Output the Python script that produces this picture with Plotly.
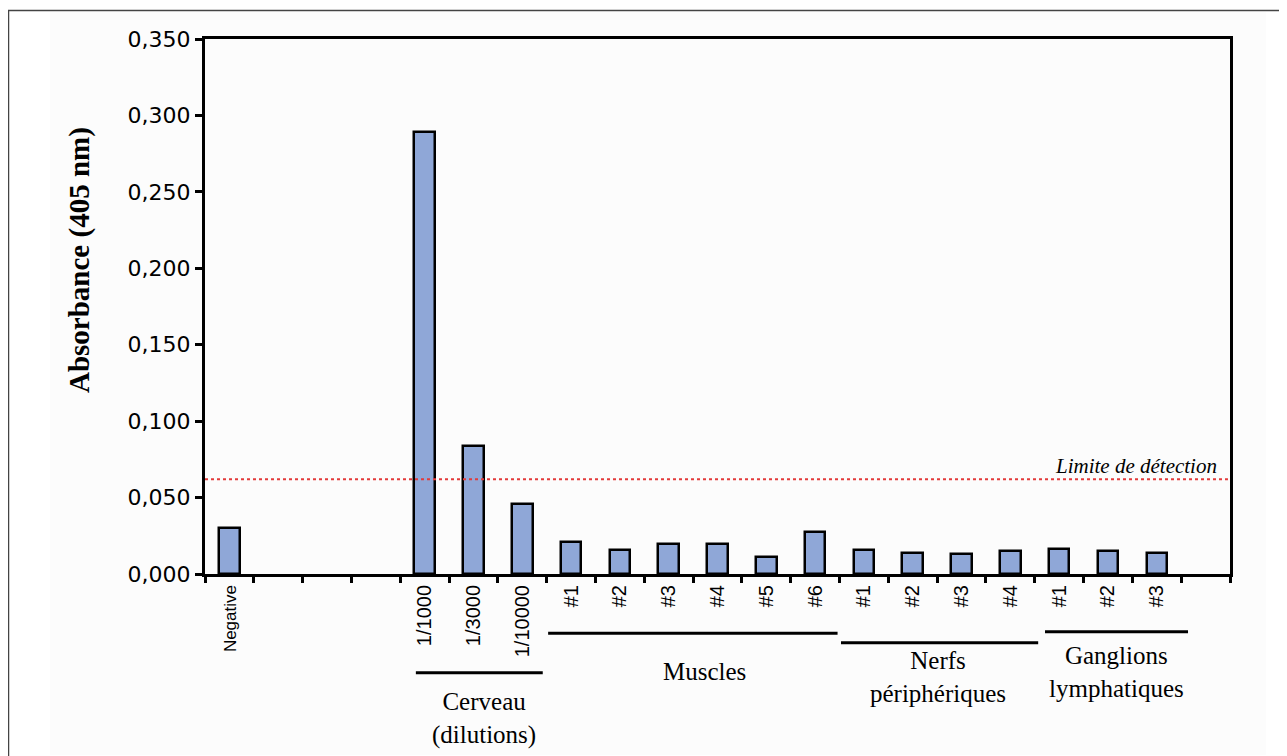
import plotly.graph_objects as go

# ---------------- data ----------------
categories = ["Negative", "", "", "", "1/1000", "1/3000", "1/10000",
              "#1", "#2", "#3", "#4", "#5", "#6",
              "#1", "#2", "#3", "#4",
              "#1", "#2", "#3", ""]
absorbance = [0.030, None, None, None, 0.289, 0.084, 0.046,
              0.021, 0.0155, 0.0195, 0.0195, 0.0113, 0.0275,
              0.0155, 0.0137, 0.0129, 0.0153,
              0.0161, 0.0153, 0.0135, None]
detection_limit = 0.062
y_ticks = [0.0, 0.05, 0.10, 0.15, 0.20, 0.25, 0.30, 0.35]
y_tick_labels = ["0,000", "0,050", "0,100", "0,150", "0,200", "0,250", "0,300", "0,350"]

group_names = ["Cerveau<br>(dilutions)", "Muscles", "Nerfs<br>périphériques", "Ganglions<br>lymphatiques"]
group_first = [4, 7, 13, 17]
group_last = [6, 12, 16, 19]

# ---------------- layout helpers ----------------
OFF = 8                      # page body margin
W, H = 1287 - OFF, 756 - OFF
L, R, T, B = 205, 1230, 39, 574   # plot area in screenshot pixels
def px_x(px):
    return (px - L) / (R - L)
def px_y(py):
    return (B - py) / (B - T)

# group bracket styling (offsets in category units, y in pixels)
grp_trim_l = [0.32, 0.03, 0.03, 0.21]
grp_trim_r = [-0.08, -0.04, 0.07, 0.14]
grp_line_py = [672.7, 633.3, 642.7, 631.7]
grp_text_x = [5.22, 9.74, 14.51, 18.18]
grp_text_py = [718, 671.7, 677.5, 672]

x = list(range(len(categories)))
tick_text = [("<span style='font-size:17px'>%s</span>" % c) if c == "Negative" else c for c in categories]

fig = go.Figure()
fig.add_trace(go.Bar(
    x=x, y=absorbance, width=0.42,
    marker=dict(color="#8FA7D7", line=dict(color="black", width=2.5)),
    showlegend=False, hoverinfo="skip",
))

shapes = []
# outer page frame
shapes.append(dict(type="rect", xref="paper", yref="paper",
                   x0=px_x(50), x1=px_x(1266), y0=px_y(755), y1=px_y(12),
                   fillcolor="#FCFCFC", line=dict(width=0), layer="below"))
shapes.append(dict(type="line", xref="paper", yref="paper",
                   x0=px_x(8.5), x1=px_x(8.5), y0=px_y(10), y1=px_y(760),
                   line=dict(color="#444444", width=1.5)))
shapes.append(dict(type="line", xref="paper", yref="paper",
                   x0=px_x(8), x1=px_x(1290), y0=px_y(10.5), y1=px_y(10.5),
                   line=dict(color="#444444", width=1.5)))
# detection limit
shapes.append(dict(type="line", xref="paper", yref="y",
                   x0=0, x1=0.998, y0=detection_limit, y1=detection_limit,
                   line=dict(color="#E23A3A", width=2, dash="dot")))
annotations = [dict(xref="paper", yref="y", x=px_x(1219), y=detection_limit,
                    xanchor="right", yanchor="middle", yshift=13,
                    text="<i>Limite de détection</i>", showarrow=False,
                    font=dict(family="Liberation Serif", size=21, color="black"))]

for i, name in enumerate(group_names):
    shapes.append(dict(type="line", xref="x", yref="paper",
                       x0=group_first[i] - 0.5 + grp_trim_l[i],
                       x1=group_last[i] + 0.5 + grp_trim_r[i],
                       y0=px_y(grp_line_py[i]), y1=px_y(grp_line_py[i]),
                       line=dict(color="black", width=3)))
    annotations.append(dict(xref="x", yref="paper", x=grp_text_x[i], y=px_y(grp_text_py[i]),
                            xanchor="center", yanchor="middle", text=name, showarrow=False,
                            font=dict(family="Liberation Serif", size=25, color="black")))

annotations.append(dict(xref="paper", yref="paper", x=px_x(80), y=px_y(260),
                        xanchor="center", yanchor="middle", textangle=-90,
                        text="<b>Absorbance (405 nm)</b>", showarrow=False,
                        font=dict(family="Liberation Serif", size=29, color="black")))

fig.update_layout(
    width=W, height=H,
    margin=dict(l=L - OFF, r=(1287 - OFF) - (R - OFF), t=T - OFF, b=(756 - OFF) - (B - OFF)),
    paper_bgcolor="white", plot_bgcolor="#FDFDFD",
    shapes=shapes, annotations=annotations,
    bargap=0,
)
fig.update_xaxes(
    range=[-0.5, len(categories) - 0.5],
    tickmode="array", tickvals=x, ticktext=tick_text, tickangle=-90,
    ticks="", ticklen=6,
    minor=dict(tickmode="linear", tick0=0.5, dtick=1, ticks="outside",
               ticklen=6, tickwidth=2.5, tickcolor="black"),
    tickfont=dict(family="Liberation Sans", size=20, color="black"),
    showline=True, linewidth=3, linecolor="black", mirror=True,
    showgrid=False, zeroline=False,
)
fig.update_yaxes(
    range=[0, 0.35], tickmode="array", tickvals=y_ticks, ticktext=y_tick_labels,
    ticks="outside", ticklen=7, tickwidth=2.5, tickcolor="black",
    tickfont=dict(family="DejaVu Sans", size=22, color="black"),
    showline=True, linewidth=3, linecolor="black", mirror=True,
    showgrid=False, zeroline=False,
)

fig.write_html("out.html")
